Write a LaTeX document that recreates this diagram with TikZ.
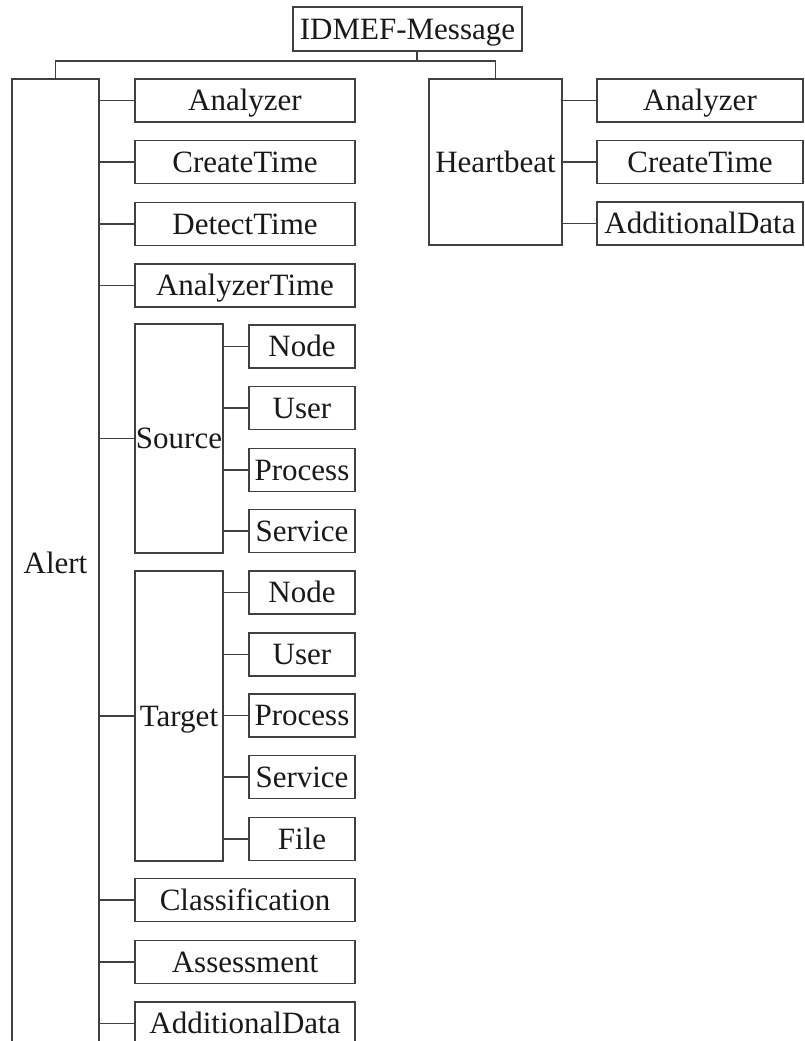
\documentclass[tikz,border=0pt]{standalone}
\usepackage{fontspec}
\setmainfont{Liberation Serif}
\begin{document}
\begin{tikzpicture}[x=1pt,y=-1pt,
  box/.style={draw=black!75, line width=1.2pt, inner sep=0pt, text=black!90,
    font=\fontsize{31}{36}\selectfont, minimum height=43pt,
    text height=20.5pt, text depth=0pt},
  wide/.style={box, minimum width=220pt},
  small/.style={box, minimum width=106pt},
  hbchild/.style={box, minimum width=206pt},
  conn/.style={draw=black!75, line width=1.2pt}]
\useasboundingbox (0,0) rectangle (804,1041);
\clip (0,0) rectangle (804,1041);
% root
\node[box, minimum width=229pt, minimum height=44pt] (root) at (407.5,29) {IDMEF-Message};
% level 1
\node[box, minimum width=87pt, minimum height=968pt] (alert) at (55.5,563) {Alert};
\node[box, minimum width=133pt, minimum height=166pt] (hb) at (495.5,162) {Heartbeat};
% Alert children
\node[wide] (a1) at (245,100.5) {Analyzer};
\node[wide] (a2) at (245,162) {CreateTime};
\node[wide] (a3) at (245,224) {DetectTime};
\node[wide] (a4) at (245,285.5) {AnalyzerTime};
\node[box, minimum width=88pt, minimum height=229pt] (src) at (179,438.5) {Source};
\node[box, minimum width=88pt, minimum height=290pt] (tgt) at (179,716) {Target};
\node[wide] (a5) at (245,900) {Classification};
\node[wide] (a6) at (245,962) {Assessment};
\node[wide] (a7) at (245,1023.5) {AdditionalData};
% Source children
\node[small] (s1) at (302,346.5) {Node};
\node[small] (s2) at (302,408) {User};
\node[small] (s3) at (302,470) {Process};
\node[small] (s4) at (302,531) {Service};
% Target children
\node[small] (t1) at (302,592.5) {Node};
\node[small] (t2) at (302,654.5) {User};
\node[small] (t3) at (302,715.5) {Process};
\node[small] (t4) at (302,777) {Service};
\node[small] (t5) at (302,839) {File};
% Heartbeat children
\node[hbchild] (h1) at (700,100.5) {Analyzer};
\node[hbchild] (h2) at (700,162) {CreateTime};
\node[hbchild] (h3) at (700,223.5) {AdditionalData};
% root connectors
\coordinate (bus) at (417,61);
\draw[conn] ([xshift=9.5pt]root.south) -- (bus);
\draw[conn] (alert.north) |- (bus) -| (hb.north);
% Alert connectors
\foreach \n in {a1,a2,a3,a4,src,tgt,a5,a6,a7}
  \draw[conn] (\n.west) -- (\n.west -| alert.east);
\foreach \n in {s1,s2,s3,s4}
  \draw[conn] (\n.west) -- (\n.west -| src.east);
\foreach \n in {t1,t2,t3,t4,t5}
  \draw[conn] (\n.west) -- (\n.west -| tgt.east);
\foreach \n in {h1,h2,h3}
  \draw[conn] (\n.west) -- (\n.west -| hb.east);
\end{tikzpicture}
\end{document}
